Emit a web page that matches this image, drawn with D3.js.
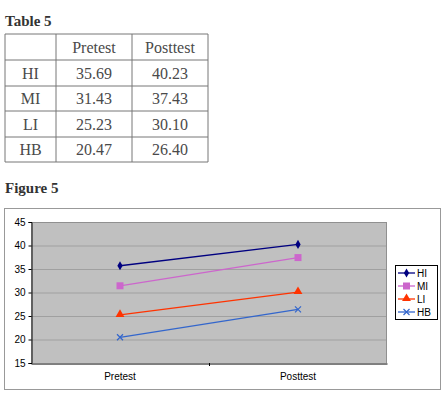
<!DOCTYPE html>
<html>
<head>
<meta charset="utf-8">
<script src="https://cdn.jsdelivr.net/npm/d3@7"></script>
<style>
  body { margin: 0; background: #fff; }
  svg { display: block; }
</style>
</head>
<body>
<svg id="vis" width="442" height="398"></svg>
<script>
// data
const groups = ["HI", "MI", "LI", "HB"];
const tests = ["Pretest", "Posttest"];
const pretest = [35.69, 31.43, 25.23, 20.47];
const posttest = [40.23, 37.43, 30.10, 26.40];
const yTicks = [15, 20, 25, 30, 35, 40, 45];
const colors = ["#000080", "#cc66cc", "#ff3300", "#3366cc"];
const markers = ["diamond", "square", "triangle", "cross"];

let svg = d3.select("#vis");
const serif = "'Liberation Serif', serif";
const sans = "'Liberation Sans', Arial, sans-serif";

// ---- table ----
svg.append("text")
    .attr("x", 5).attr("y", 26)
    .attr("font-family", serif).attr("font-weight", "bold")
    .attr("font-size", 15).attr("fill", "#333")
    .text("Table 5");

let colX = [5, 56, 132, 208];
let rowY = [34, 60, 86, 111, 137, 162];
let tbl = svg.append("g");
colX.forEach(function(x) {
    tbl.append("line").attr("x1", x).attr("x2", x).attr("y1", rowY[0]).attr("y2", rowY[rowY.length-1])
        .attr("stroke", "#777").attr("stroke-width", 1);
});
rowY.forEach(function(y) {
    tbl.append("line").attr("x1", colX[0]).attr("x2", colX[3]).attr("y1", y).attr("y2", y)
        .attr("stroke", "#777").attr("stroke-width", 1);
});
let cells = [["", tests[0], tests[1]]];
groups.forEach(function(g, i) {
    cells.push([g, pretest[i].toFixed(2), posttest[i].toFixed(2)]);
});
cells.forEach(function(row, r) {
    row.forEach(function(txt, c) {
        tbl.append("text")
            .attr("x", (colX[c] + colX[c+1]) / 2)
            .attr("y", (rowY[r] + rowY[r+1]) / 2 + 5.5)
            .attr("text-anchor", "middle")
            .attr("font-family", serif).attr("font-size", 16)
            .attr("fill", "#4a4a4a")
            .text(txt);
    });
});

svg.append("text")
    .attr("x", 5).attr("y", 193)
    .attr("font-family", serif).attr("font-weight", "bold")
    .attr("font-size", 15).attr("fill", "#333")
    .text("Figure 5");

// ---- chart ----
svg.append("rect")
    .attr("x", 4.5).attr("y", 208.5).attr("width", 436).attr("height", 181)
    .attr("fill", "#fff").attr("stroke", "#999");

let padding = {left: 31, right: 387, top: 222, bottom: 363};

let x = d3.scaleBand().domain(tests).range([padding.left, padding.right]);
let y = d3.scaleLinear().domain([15, 45]).range([padding.bottom, padding.top]);

let chart = svg.append("g");
chart.append("rect")
    .attr("x", padding.left).attr("y", padding.top)
    .attr("width", padding.right - padding.left).attr("height", padding.bottom - padding.top)
    .attr("fill", "#c0c0c0");

// grid lines
chart.selectAll("line.grid")
    .data(yTicks.slice(1, -1))
    .enter().append("line")
    .attr("class", "grid")
    .attr("x1", padding.left).attr("x2", padding.right)
    .attr("y1", d => y(d) + 0.5).attr("y2", d => y(d) + 0.5)
    .attr("stroke", "#a0a0a0").attr("stroke-width", 1);
chart.append("line")
    .attr("x1", padding.left).attr("x2", padding.right)
    .attr("y1", padding.top + 0.5).attr("y2", padding.top + 0.5)
    .attr("stroke", "#909090");
chart.append("line")
    .attr("x1", padding.right - 0.5).attr("x2", padding.right - 0.5)
    .attr("y1", padding.top).attr("y2", padding.bottom)
    .attr("stroke", "#909090");

let yAxis = d3.axisLeft(y).tickValues(yTicks).tickSize(3).tickPadding(3);
let gY = chart.append("g")
    .attr("transform", "translate(" + (padding.left + 0.5) + ",0)")
    .call(yAxis);
let xAxis = d3.axisBottom(x).tickSize(0).tickPadding(9);
let gX = chart.append("g")
    .attr("transform", "translate(0," + (padding.bottom + 0.5) + ")")
    .call(xAxis);
[gX, gY].forEach(function(g) {
    g.select(".domain").attr("stroke", "#000");
    g.selectAll(".tick line").attr("stroke", "#000");
    g.selectAll("text").attr("font-family", sans).attr("font-size", 10).attr("fill", "#000");
});
// middle category divider tick
chart.append("line")
    .attr("x1", x(tests[1]) + 0.5).attr("x2", x(tests[1]) + 0.5)
    .attr("y1", padding.bottom).attr("y2", padding.bottom + 3)
    .attr("stroke", "#000");

function drawMarker(g, type, cx, cy, color) {
    if (type === "diamond") {
        g.append("path").attr("d", d3.symbol(d3.symbolDiamond, 24)()).attr("transform", "translate(" + cx + "," + cy + ")").attr("fill", color);
    } else if (type === "square") {
        g.append("rect").attr("x", cx - 3.5).attr("y", cy - 3.5).attr("width", 7).attr("height", 7).attr("fill", color);
    } else if (type === "triangle") {
        g.append("path").attr("d", d3.symbol(d3.symbolTriangle, 34)()).attr("transform", "translate(" + cx + "," + (cy - 0.5) + ")").attr("fill", color);
    } else {
        g.append("path").attr("d", "M-3,-3L3,3M-3,3L3,-3").attr("transform", "translate(" + cx + "," + cy + ")")
            .attr("stroke", color).attr("stroke-width", 1.2).attr("fill", "none");
    }
}

let line = d3.line().x(d => x(d.t) + x.bandwidth() / 2).y(d => y(d.v));
groups.forEach(function(g, i) {
    let pts = [{t: tests[0], v: pretest[i]}, {t: tests[1], v: posttest[i]}];
    chart.append("path").datum(pts).attr("d", line)
        .attr("fill", "none").attr("stroke", colors[i]).attr("stroke-width", 1.3);
    pts.forEach(function(p) {
        drawMarker(chart, markers[i], x(p.t) + x.bandwidth() / 2, y(p.v), colors[i]);
    });
});

// legend
let legend = svg.append("g");
legend.append("rect")
    .attr("x", 395.5).attr("y", 265.5).attr("width", 42).attr("height", 54)
    .attr("fill", "#fff").attr("stroke", "#000");
groups.forEach(function(g, i) {
    let ly = 273 + i * 13;
    legend.append("line").attr("x1", 398).attr("x2", 415).attr("y1", ly).attr("y2", ly)
        .attr("stroke", colors[i]).attr("stroke-width", 1.3);
    drawMarker(legend, markers[i], 406.5, ly, colors[i]);
    legend.append("text").attr("x", 417).attr("y", ly + 3.5)
        .attr("font-family", sans).attr("font-size", 10).attr("fill", "#000")
        .text(g);
});
</script>
</body>
</html>
